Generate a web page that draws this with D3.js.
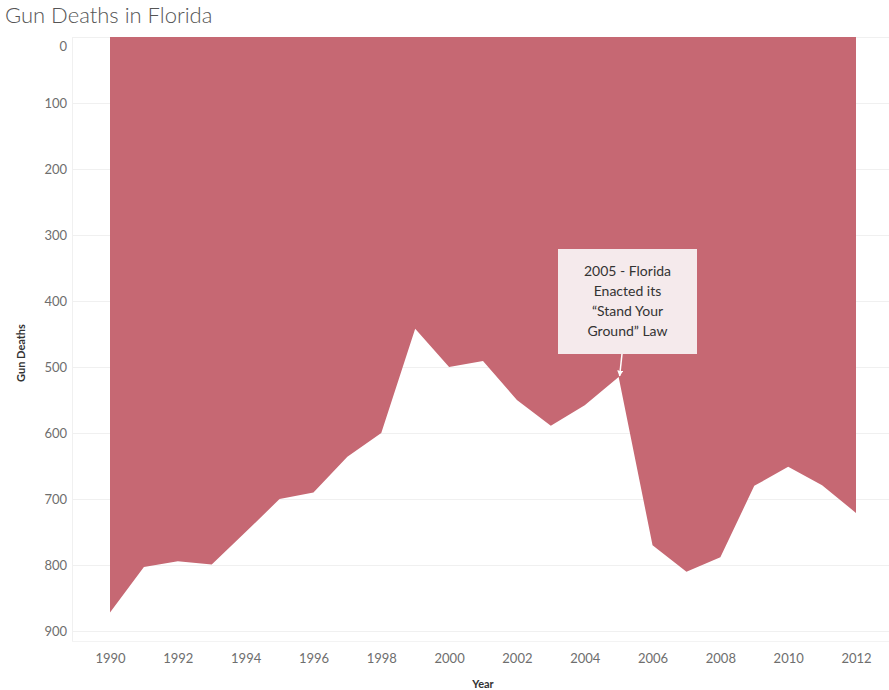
<!DOCTYPE html>
<html>
<head>
<meta charset="utf-8">
<script src="https://cdn.jsdelivr.net/npm/d3@7"></script>
<style>
  body { margin: 0; background: #fff; font-family: Lato, "Open Sans", sans-serif; }
</style>
</head>
<body>
<svg id="chart" width="889" height="690"></svg>
<script>
// Florida gun deaths by year (y axis is reversed).
const YEARS = [1990, 1991, 1992, 1993, 1994, 1995, 1996, 1997, 1998, 1999, 2000,
  2001, 2002, 2003, 2004, 2005, 2006, 2007, 2008, 2009, 2010, 2011, 2012];
const DEATHS = [872, 803, 794, 799, 750, 700, 690, 636, 600, 442, 500,
  491, 550, 589, 558, 515, 770, 810, 788, 680, 651, 679, 721];
const Y_TICKS = [0, 100, 200, 300, 400, 500, 600, 700, 800, 900];
const X_TICKS = [1990, 1992, 1994, 1996, 1998, 2000, 2002, 2004, 2006, 2008, 2010, 2012];
const NOTE_YEAR = 2005;
const NOTE_LINES = ['2005 - Florida', 'Enacted its', '\u201CStand Your', 'Ground\u201D Law'];

const svg = d3.select('#chart');
const data = YEARS.map((year, i) => ({ year, deaths: DEATHS[i] }));

const x = d3.scaleLinear().domain([1990, 2012]).range([110, 856]);
const y = d3.scaleLinear().domain([0, 915]).range([37, 641]);

// pane borders and gridlines
const grid = svg.append('g');
grid.selectAll('line.h')
  .data(Y_TICKS)
  .enter()
  .append('line')
  .attr('x1', 72)
  .attr('x2', 889)
  .attr('y1', (d) => Math.round(y(d)) + 0.5)
  .attr('y2', (d) => Math.round(y(d)) + 0.5)
  .attr('stroke', '#f0f0f0');
grid.append('line')
  .attr('x1', 72.5).attr('x2', 72.5).attr('y1', 37).attr('y2', 641)
  .attr('stroke', '#f0f0f0');
grid.append('line')
  .attr('x1', 72).attr('x2', 889).attr('y1', 641.5).attr('y2', 641.5)
  .attr('stroke', '#f3f3f3');

// area hangs from the top of the pane down to the value
const area = d3.area()
  .x((d) => x(d.year))
  .y0(y(y.domain()[0]))
  .y1((d) => y(d.deaths));

svg.append('path')
  .datum(data)
  .attr('d', area)
  .attr('fill', '#c66873');

// axes
const yAxis = svg.append('g')
  .attr('transform', 'translate(67,0)')
  .call(d3.axisLeft(y).tickValues(Y_TICKS).tickSize(0).tickPadding(0));
yAxis.select('.domain').remove();
yAxis.selectAll('text')
  .attr('fill', '#6e6e6e')
  .style('font-size', '13px')
  .style('font-family', 'Lato, sans-serif');
// the 0 label is nudged down so it stays inside the pane, as Tableau does
yAxis.selectAll('.tick').filter((d) => d === 0).select('text').attr('dy', '1.05em');

const xAxis = svg.append('g')
  .attr('transform', 'translate(0,651)')
  .call(d3.axisBottom(x).tickValues(X_TICKS).tickFormat(d3.format('d')).tickSize(0).tickPadding(3));
xAxis.select('.domain').remove();
xAxis.selectAll('text')
  .attr('fill', '#6e6e6e')
  .style('font-size', '13px')
  .style('font-family', 'Lato, sans-serif');

// titles
svg.append('text')
  .attr('x', 5)
  .attr('y', 23)
  .attr('fill', '#555')
  .style('font-size', '22px')
  .style('font-weight', '300')
  .text('Gun Deaths in Florida');

svg.append('text')
  .attr('transform', 'translate(25,353) rotate(-90)')
  .attr('text-anchor', 'middle')
  .attr('fill', '#333')
  .style('font-size', '11px')
  .style('font-weight', '700')
  .text('Gun Deaths');

svg.append('text')
  .attr('x', 483)
  .attr('y', 688)
  .attr('text-anchor', 'middle')
  .attr('fill', '#333')
  .style('font-size', '11px')
  .style('font-weight', '700')
  .text('Year');

// annotation
const noteVal = DEATHS[YEARS.indexOf(NOTE_YEAR)];
const tipX = x(NOTE_YEAR);
const tipY = y(noteVal);
const box = { x: 558, y: 249, w: 139, h: 105 };

svg.append('defs')
  .append('marker')
  .attr('id', 'arrowhead')
  .attr('viewBox', '0 0 10 10')
  .attr('refX', 9)
  .attr('refY', 5)
  .attr('markerWidth', 4)
  .attr('markerHeight', 4)
  .attr('orient', 'auto')
  .append('path')
  .attr('d', 'M0,0 L10,5 L0,10 z')
  .attr('fill', '#fff');

svg.append('line')
  .attr('x1', 622)
  .attr('y1', box.y + box.h)
  .attr('x2', tipX + 1)
  .attr('y2', tipY - 1)
  .attr('stroke', '#fff')
  .attr('stroke-width', 1.5)
  .attr('marker-end', 'url(#arrowhead)');

svg.append('rect')
  .attr('x', box.x)
  .attr('y', box.y)
  .attr('width', box.w)
  .attr('height', box.h)
  .attr('fill', '#f5eaec');

svg.append('g')
  .selectAll('text')
  .data(NOTE_LINES)
  .enter()
  .append('text')
  .attr('x', box.x + box.w / 2)
  .attr('y', (d, i) => box.y + 27 + i * 20)
  .attr('text-anchor', 'middle')
  .attr('fill', '#333')
  .style('font-size', '14px')
  .text((d) => d);
</script>
</body>
</html>
